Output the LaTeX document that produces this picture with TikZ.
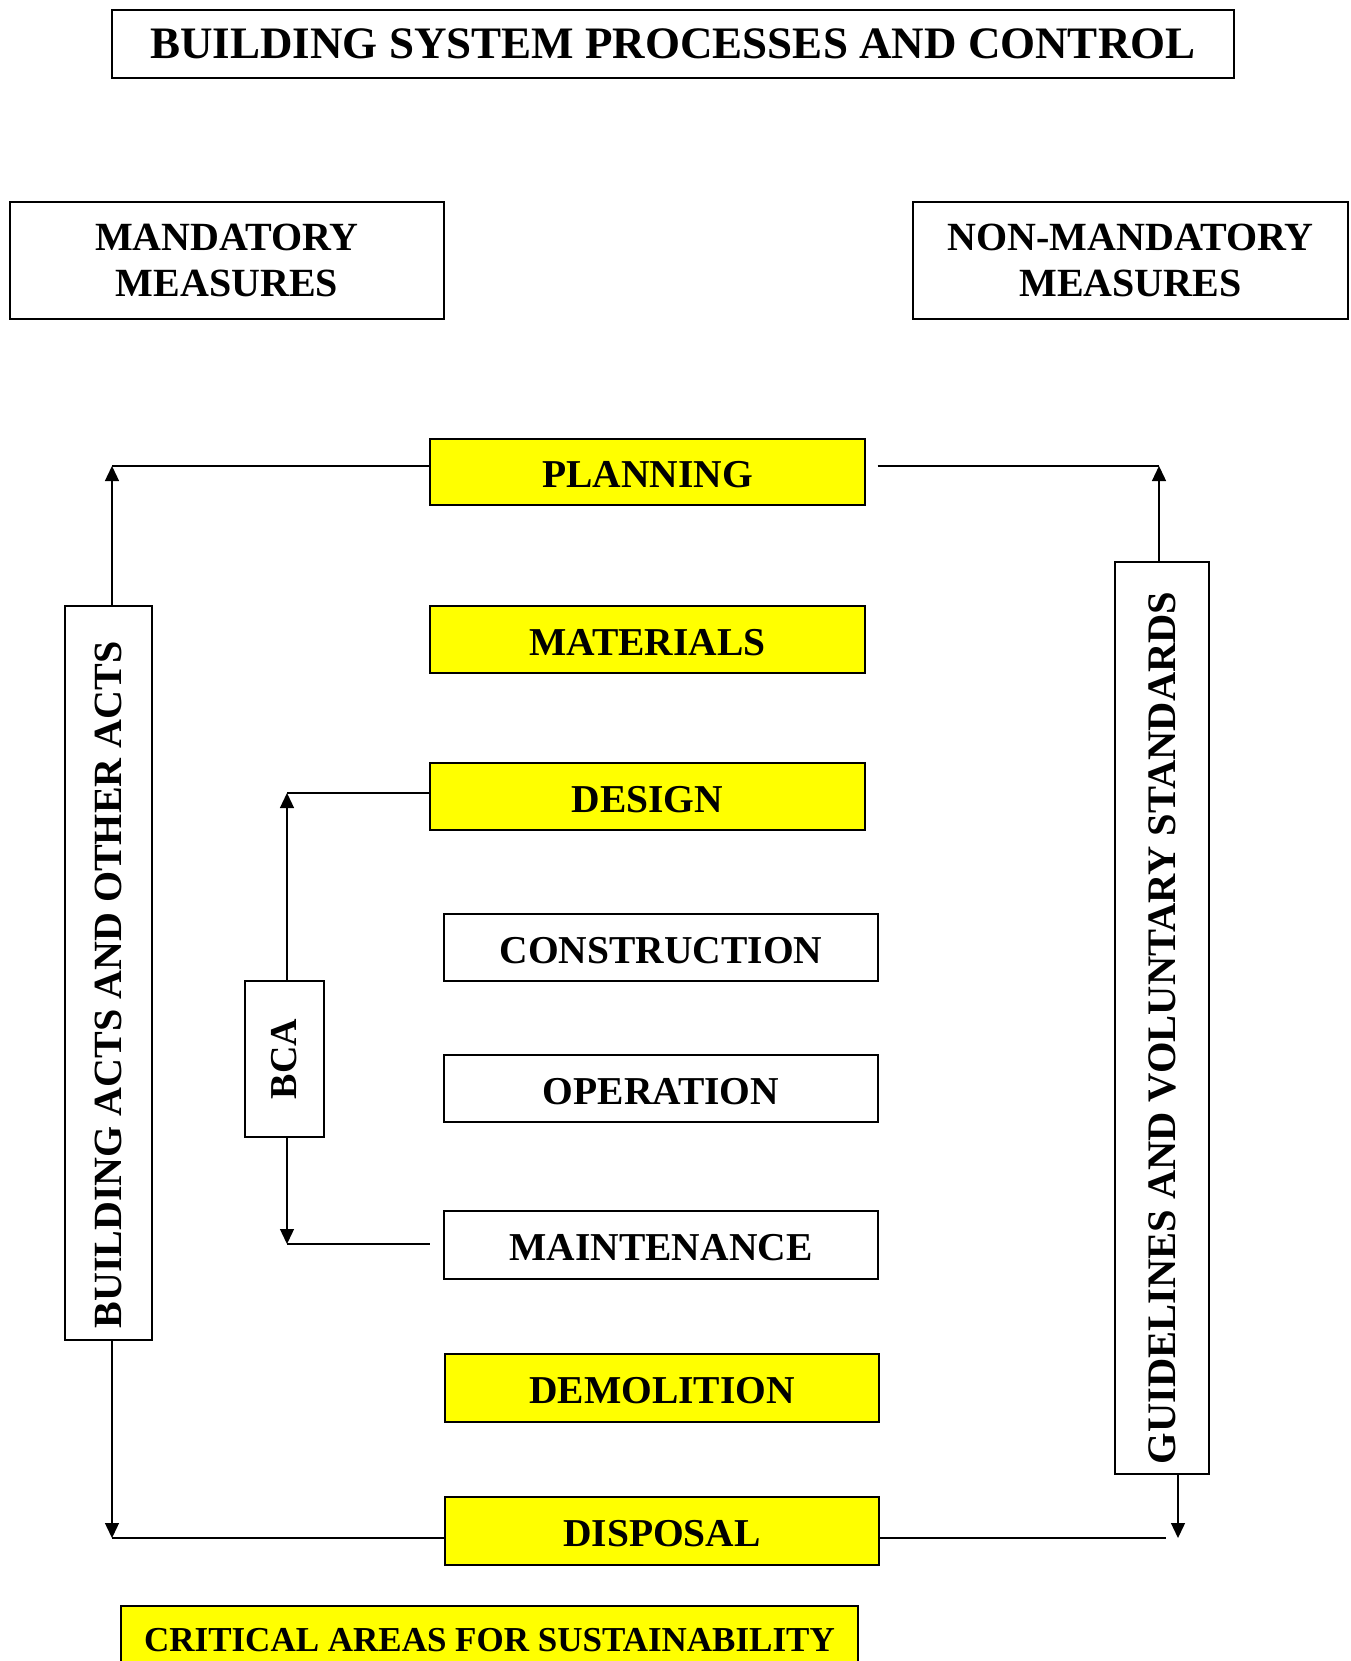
\documentclass[tikz,border=0pt]{standalone}
\usepackage{fontspec}
\setmainfont{Liberation Serif}
\usetikzlibrary{arrows.meta}
\definecolor{stage}{RGB}{255,255,0}
\begin{document}
\begin{tikzpicture}[x=1pt,y=-1pt,
  box/.style={draw=black, line width=1.4pt, inner sep=0pt, align=center,
    font=\fontsize{39.5}{43}\selectfont\bfseries},
  stagebox/.style={box, text height=31pt, text depth=0pt},
  hot/.style={stagebox, fill=stage},
  vbox/.style={box, rotate=90, font=\fontsize{40}{43}\selectfont\bfseries},
  conn/.style={line width=1.3pt},
  arr/.style={conn, -{Triangle[length=15pt,width=14pt]}}]
\useasboundingbox (0,0) rectangle (1350,1661);

% heading and the two kinds of measures
\node[box, minimum width=1122pt, minimum height=68pt,
  font=\fontsize{45}{48}\selectfont\bfseries] (title) at (673,44)
  {BUILDING SYSTEM PROCESSES AND CONTROL};
\node[box, minimum width=434pt, minimum height=117pt, font=\fontsize{40}{46}\selectfont\bfseries]
  (mand) at (227,260.5) {MANDATORY\\MEASURES};
\node[box, minimum width=435pt, minimum height=117pt, font=\fontsize{40}{46}\selectfont\bfseries]
  (nonmand) at (1130.5,260.5) {NON-MANDATORY\\MEASURES};

% life-cycle stages
\node[hot, minimum width=435pt, minimum height=66pt] (planning)  at (647.5,472)   {PLANNING};
\node[hot, minimum width=435pt, minimum height=67pt] (materials) at (647.5,639.5) {MATERIALS};
\node[hot, minimum width=435pt, minimum height=67pt] (design)    at (647.5,796.5) {DESIGN};
\node[stagebox, minimum width=434pt, minimum height=67pt] (construction) at (661,947.5)  {CONSTRUCTION};
\node[stagebox, minimum width=434pt, minimum height=67pt] (operation)    at (661,1088.5) {OPERATION};
\node[stagebox, minimum width=434pt, minimum height=68pt] (maintenance)  at (661,1245)   {MAINTENANCE};
\node[hot, minimum width=434pt, minimum height=68pt] (demolition) at (662,1388) {DEMOLITION};
\node[hot, minimum width=434pt, minimum height=68pt] (disposal)   at (662,1531) {DISPOSAL};

% legend
\node[box, fill=stage, minimum width=737pt, minimum height=68pt,
  font=\fontsize{35}{38}\selectfont\bfseries] (critical) at (489.5,1640)
  {CRITICAL AREAS FOR SUSTAINABILITY};

% controlling frameworks (text runs bottom to top; east is the top end)
\node[vbox, minimum width=734pt, minimum height=87pt] (acts)  at (108.5,973)
  {BUILDING ACTS AND OTHER ACTS\hspace*{24pt}};
\node[vbox, minimum width=912pt, minimum height=94pt,
  font=\fontsize{40.5}{43}\selectfont\bfseries] (guide) at (1162,1018)
  {GUIDELINES AND VOLUNTARY STANDARDS\hspace*{20pt}};
\node[vbox, minimum width=156pt, minimum height=79pt,
  font=\fontsize{38}{40}\selectfont\bfseries] (bca) at (284.5,1059) {BCA};

% corners of the connectors
\coordinate (tl) at (112,466);
\coordinate (tr) at (1159,466);
\coordinate (bl) at (112,1538);
\coordinate (br) at (1178,1538);
\coordinate (ct) at (287,793);
\coordinate (cb) at (287,1244);

% mandatory loop
\draw[arr] (tl |- acts.east) -- (tl);
\draw[conn] (tl) -- (tl -| planning.west);
\draw[arr] (bl |- acts.west) -- (bl);
\draw[conn] (bl) -- (bl -| disposal.west);

% voluntary loop
\draw[arr] (tr |- guide.east) -- (tr);
\draw[conn] ([xshift=12pt]tr -| planning.east) -- (tr);
\draw[arr] (br |- guide.west) -- (br);
\draw[conn] (br -| disposal.east) -- ([xshift=-12pt]br);

% BCA coverage
\draw[arr] (ct |- bca.east) -- (ct);
\draw[conn] (ct) -- (ct -| design.west);
\draw[arr] (cb |- bca.west) -- (cb);
\draw[conn] (cb) -- ([xshift=-13pt]cb -| maintenance.west);
\end{tikzpicture}
\end{document}
